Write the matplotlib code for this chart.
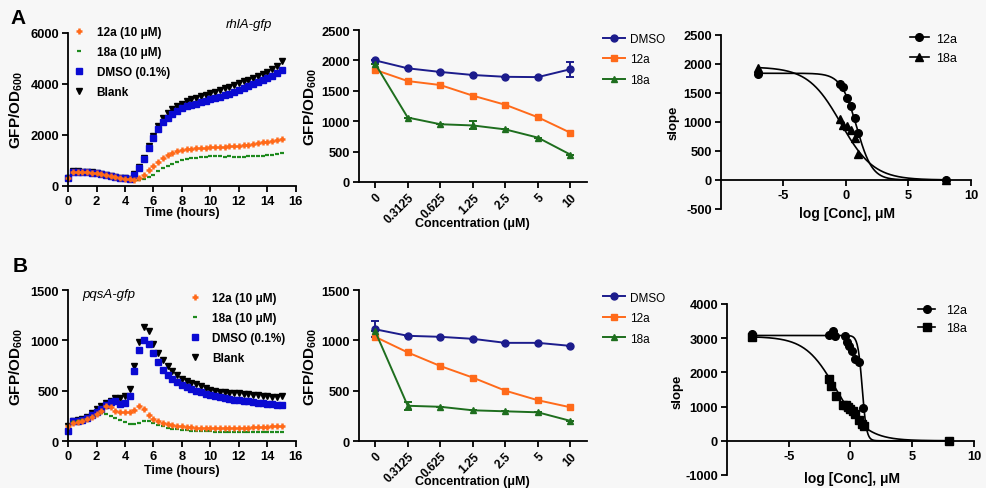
import numpy as np
import matplotlib
matplotlib.use("Agg")
import matplotlib.pyplot as plt
from matplotlib.lines import Line2D

plt.rcParams['font.family'] = ['Liberation Sans', 'DejaVu Sans']
plt.rcParams['mathtext.fontset'] = 'custom'
plt.rcParams['mathtext.rm'] = 'Liberation Sans'
plt.rcParams['mathtext.bf'] = 'Liberation Sans:bold'
plt.rcParams['axes.unicode_minus'] = False

# ---- time courses (one reading every 20 min) ----
timeHours = np.arange(46) / 3.0

rhlDmso = [300, 560, 560, 550, 540, 520, 500, 470, 430, 390, 350, 320, 300, 280, 450, 700,
           1050, 1500, 1900, 2250, 2500, 2680, 2830, 2950, 3050, 3120, 3180, 3230, 3280, 3340,
           3400, 3450, 3500, 3560, 3620, 3690, 3770, 3840, 3910, 3990, 4060, 4140, 4230, 4320,
           4420, 4530]
rhlBlank = [320, 570, 570, 560, 550, 530, 510, 480, 440, 400, 360, 330, 310, 290, 480, 750,
            1100, 1550, 1950, 2350, 2650, 2850, 3000, 3120, 3230, 3330, 3400, 3460, 3510, 3570,
            3640, 3700, 3760, 3830, 3900, 3960, 4030, 4100, 4170, 4250, 4320, 4400, 4480, 4580,
            4700, 4900]
rhl12a = [300, 550, 550, 540, 530, 510, 490, 460, 420, 380, 340, 310, 290, 270, 250, 320,
          450, 620, 800, 950, 1080, 1200, 1290, 1360, 1410, 1440, 1460, 1480, 1490, 1500,
          1510, 1520, 1530, 1540, 1550, 1560, 1580, 1600, 1620, 1650, 1680, 1710, 1740, 1780,
          1820, 1860]
rhl18a = [300, 520, 520, 510, 500, 490, 470, 440, 400, 360, 330, 300, 280, 260, 240, 240,
          270, 350, 450, 580, 700, 800, 880, 950, 1010, 1050, 1080, 1100, 1120, 1140,
          1160, 1170, 1160, 1150, 1170, 1150, 1140, 1150, 1160, 1170, 1180, 1190, 1200, 1220,
          1250, 1280]

pqsDmso = [100, 200, 200, 210, 230, 260, 290, 320, 360, 390, 400, 370, 380, 450, 700, 900,
           1000, 960, 870, 780, 710, 660, 620, 590, 560, 540, 520, 500, 490, 470,
           455, 445, 435, 425, 420, 410, 405, 400, 395, 385, 380, 375, 370, 365, 360, 360]
pqsBlank = [150, 200, 210, 220, 240, 280, 320, 350, 380, 400, 430, 430, 450, 520, 750, 980,
            1130, 1090, 960, 870, 800, 750, 700, 660, 620, 600, 580, 565, 550, 530,
            510, 500, 490, 485, 480, 480, 475, 470, 465, 460, 455, 450, 445, 440, 440, 445]
pqs12a = [150, 180, 190, 200, 220, 240, 270, 300, 350, 340, 300, 290, 290, 290, 310, 345,
          320, 260, 220, 195, 175, 165, 155, 150, 145, 140, 135, 132, 130, 128,
          126, 125, 125, 125, 127, 128, 130, 132, 134, 136, 138, 140, 142, 145, 148, 150]
pqs18a = [150, 190, 200, 210, 220, 240, 260, 275, 270, 250, 230, 210, 190, 170, 165, 180,
          200, 195, 180, 160, 145, 130, 122, 115, 110, 105, 102, 100, 98, 96,
          95, 93, 92, 90, 88, 87, 86, 85, 85, 85, 85, 86, 87, 88, 89, 90]

# ---- dose response (uM) ----
concLabels = ['0', '0.3125', '0.625', '1.25', '2.5', '5', '10']
concValues = [0, 0.3125, 0.625, 1.25, 2.5, 5, 10]

rhlDoseDmso = [2000, 1870, 1810, 1760, 1730, 1725, 1855]
rhlDoseDmsoErr = [0, 0, 0, 0, 0, 0, 120]
rhlDose12a = [1845, 1660, 1595, 1420, 1270, 1065, 810]
rhlDose18a = [1945, 1060, 950, 930, 865, 730, 450]
rhlDose18aErr = [0, 0, 0, 65, 0, 0, 0]

pqsDoseDmso = [1110, 1045, 1035, 1015, 975, 975, 945]
pqsDoseDmsoErr = [80, 0, 0, 0, 0, 0, 0]
pqsDose12a = [1035, 880, 745, 630, 500, 405, 335]
pqsDose18a = [1090, 350, 340, 305, 295, 285, 200]
pqsDose18aErr = [0, 40, 0, 0, 0, 0, 0]

# ---- slope vs log conc ----
rhlLogConc = [-7, -0.505, -0.204, 0.097, 0.398, 0.699, 1.0, 8]
rhlSlope12a = [1835, 1660, 1600, 1420, 1270, 1065, 810, 0]
rhlSlope18a = [1935, 1058, 948, 927, 866, 729, 450, 0]

pqsLogConc12a = [-8, -1.71, -1.45, -1.24, -0.45, -0.26, -0.08, 0.13, 0.39, 0.66, 1.05, 8]
pqsSlope12a = [3130, 3095, 3200, 3075, 3075, 2880, 2783, 2637, 2394, 2297, 954, 0]
pqsLogConc18a = [-8, -1.76, -1.55, -1.15, -0.6, -0.4, -0.2, 0.0, 0.2, 0.4, 0.66, 0.92, 1.13, 8]
pqsSlope18a = [3030, 1810, 1610, 1300, 1060, 1060, 1000, 930, 870, 780, 620, 500, 430, 0]

# fitted curves: top, bottom, logIC50, hill slope
rhlFit12a = [1840, 0, 0.85, 0.7]
rhlFit18a = [1950, 0, -0.4, 0.33]
pqsFit12a = [3080, 0, 0.95, 2.5]
pqsFit18a = [3050, 0, -1.2, 0.35]

orange = '#ff6a1a'
green = '#1e8a1e'
blue = '#0a0ad2'
navy = '#1c1c8c'
darkGreen = '#1e6e1e'


def logistic(x, p):
    top, bottom, logIc50, hill = p
    return bottom + (top - bottom) / (1 + 10 ** ((x - logIc50) * hill))


def styleAxes(ax):
    for side in ['top', 'right']:
        ax.spines[side].set_visible(False)
    for side in ['left', 'bottom']:
        ax.spines[side].set_linewidth(1.3)
    ax.tick_params(direction='out', length=4, width=1.3, labelsize=9.3, pad=2.5)
    for lab in ax.get_xticklabels() + ax.get_yticklabels():
        lab.set_fontweight('bold')
    ax.patch.set_alpha(0)


def timePanel(ax, dmso, blank, c12, c18, ymax, ystep):
    ax.plot(timeHours, blank, 'v', color='black', ms=4.5, clip_on=False, label='Blank')
    ax.plot(timeHours, dmso, 's', color=blue, ms=4.5, clip_on=False, label='DMSO (0.1%)')
    ax.plot(timeHours, c18, '_', color=green, ms=3.5, mew=1.6, clip_on=False, label='18a (10 \u03bcM)')
    ax.plot(timeHours, c12, '+', color=orange, ms=5, mew=1.8, clip_on=False, label='12a (10 \u03bcM)')
    ax.set_xlim(0, 16)
    ax.set_ylim(0, ymax)
    ax.set_xticks(range(0, 17, 2))
    ax.set_yticks(range(0, ymax + 1, ystep))
    styleAxes(ax)
    ax.set_xlabel('Time (hours)', fontsize=9, fontweight='bold')
    ax.set_ylabel(r'$\mathbf{GFP/OD_{600}}$', fontsize=11)


def dosePanel(ax, dmso, dmsoErr, c12, c18, c18Err, ymax):
    pos = np.arange(len(concLabels))
    ax.errorbar(pos, dmso, yerr=dmsoErr, color=navy, marker='o', ms=5, lw=1.4, capsize=3,
                elinewidth=1.4, capthick=1.4, clip_on=False)
    ax.plot(pos, c12, color=orange, marker='s', ms=5, lw=1.4, clip_on=False)
    ax.errorbar(pos, c18, yerr=c18Err, color=darkGreen, marker='^', ms=5, lw=1.4, capsize=3,
                elinewidth=1.4, capthick=1.4, clip_on=False)
    ax.set_xlim(-0.5, 6.5)
    ax.set_ylim(0, ymax)
    ax.set_xticks(pos)
    ax.set_yticks(range(0, ymax + 1, 500))
    styleAxes(ax)
    ax.set_xticklabels(concLabels, rotation=45, ha='right', rotation_mode='anchor',
                       fontsize=8.6, fontweight='bold')
    ax.set_xlabel('Concentration (\u03bcM)', fontsize=9, fontweight='bold')
    ax.set_ylabel(r'$\mathbf{GFP/OD_{600}}$', fontsize=11)
    return [Line2D([], [], color=navy, marker='o', ms=5, lw=1.4),
            Line2D([], [], color=orange, marker='s', ms=5, lw=1.4),
            Line2D([], [], color=darkGreen, marker='^', ms=5, lw=1.4)]


def slopePanel(ax, x12, y12, x18, y18, fit12, fit18, marker18, xlo, ymin, ymax, ystep):
    xs = np.linspace(xlo, 8, 400)
    ax.plot(xs, logistic(xs, fit12), color='black', lw=1.2)
    ax.plot(xs, logistic(xs, fit18), color='black', lw=1.2)
    ax.plot(x12, y12, 'o', color='black', ms=5.5, clip_on=False)
    ax.plot(x18, y18, marker18, color='black', ms=5.5, clip_on=False)
    ax.set_xlim(-10, 10)
    ax.set_ylim(ymin, ymax)
    ax.spines['bottom'].set_position(('data', 0))
    ax.set_xticks([-5, 0, 5, 10])
    ax.set_yticks(range(ymin, ymax + 1, ystep))
    styleAxes(ax)
    ax.set_xlabel('log [Conc], \u03bcM', fontsize=10, fontweight='bold')
    ax.set_ylabel('slope', fontsize=9.5, fontweight='bold')
    return [Line2D([], [], color='black', marker='o', ms=5.5, lw=1.2),
            Line2D([], [], color='black', marker=marker18, ms=5.5, lw=1.2)]


fig = plt.figure(figsize=(9.86, 4.89), dpi=100, facecolor='#f7f7f7')

axA1 = fig.add_axes([0.069, 0.6176, 0.231, 0.3129])
axA2 = fig.add_axes([0.364, 0.6258, 0.231, 0.3108])
axA3 = fig.add_axes([0.7312, 0.5706, 0.2535, 0.3558])
axB1 = fig.add_axes([0.069, 0.0961, 0.231, 0.3088])
axB2 = fig.add_axes([0.364, 0.0961, 0.231, 0.3088])
axB3 = fig.add_axes([0.7373, 0.0266, 0.2505, 0.3497])

timePanel(axA1, rhlDmso, rhlBlank, rhl12a, rhl18a, 6000, 2000)
timePanel(axB1, pqsDmso, pqsBlank, pqs12a, pqs18a, 1500, 500)
hA2 = dosePanel(axA2, rhlDoseDmso, rhlDoseDmsoErr, rhlDose12a, rhlDose18a, rhlDose18aErr, 2500)
hB2 = dosePanel(axB2, pqsDoseDmso, pqsDoseDmsoErr, pqsDose12a, pqsDose18a, pqsDose18aErr, 1500)
hA3 = slopePanel(axA3, rhlLogConc, rhlSlope12a, rhlLogConc, rhlSlope18a, rhlFit12a, rhlFit18a,
                 '^', -7, -500, 2500, 500)
hB3 = slopePanel(axB3, pqsLogConc12a, pqsSlope12a, pqsLogConc18a, pqsSlope18a, pqsFit12a, pqsFit18a,
                 's', -8, -1000, 4000, 1000)

# label placement
axA1.xaxis.set_label_coords(0.5, -0.13)
axB1.xaxis.set_label_coords(0.5, -0.152)
axA2.xaxis.set_label_coords(0.496, -0.232)
axB2.xaxis.set_label_coords(0.496, -0.225)
axA3.xaxis.set_label_coords(0.505, 0.015)
axB3.xaxis.set_label_coords(0.506, 0.025)
axA1.yaxis.set_label_coords(-0.19, 0.5)
axB1.yaxis.set_label_coords(-0.19, 0.5)
axA2.yaxis.set_label_coords(-0.175, 0.5)
axB2.yaxis.set_label_coords(-0.175, 0.5)
axA3.yaxis.set_label_coords(-0.164, 0.5)
axB3.yaxis.set_label_coords(-0.176, 0.49)

# legends
for ax, top, left, pad in [(axA1, 0.945, 0.074, 1.0), (axB1, 0.401, 0.192, 0.95)]:
    h, l = ax.get_legend_handles_labels()
    order = [3, 2, 1, 0]
    fig.legend([h[i] for i in order], [l[i] for i in order], loc='upper left',
               bbox_to_anchor=(left, top), bbox_transform=fig.transFigure, frameon=False,
               borderpad=0, borderaxespad=0, handlelength=1.0, handletextpad=pad,
               labelspacing=0.68, prop={'weight': 'bold', 'size': 8.5})

for hs, top in [(hA2, 0.931), (hB2, 0.4018)]:
    fig.legend(hs, ['DMSO', '12a', '18a'], loc='upper left', bbox_to_anchor=(0.6116, top),
               bbox_transform=fig.transFigure, frameon=False, borderpad=0, borderaxespad=0,
               handlelength=1.85, handletextpad=0.4, labelspacing=0.72, fontsize=8.5)

fig.legend(hA3, ['12a', '18a'], loc='upper left', bbox_to_anchor=(0.9229, 0.931),
           bbox_transform=fig.transFigure, frameon=False, borderpad=0, borderaxespad=0,
           handlelength=1.5, handletextpad=0.56, labelspacing=0.6, fontsize=9)
fig.legend(hB3, ['12a', '18a'], loc='upper left', bbox_to_anchor=(0.931, 0.376),
           bbox_transform=fig.transFigure, frameon=False, borderpad=0, borderaxespad=0,
           handlelength=1.4, handletextpad=0.88, labelspacing=0.5, fontsize=9)

fig.text(0.2525, 0.949, 'rhlA-gfp', style='italic', fontsize=9.5, ha='center', va='center')
fig.text(0.1105, 0.3967, 'pqsA-gfp', style='italic', fontsize=9.5, ha='center', va='center')
fig.text(0.018, 0.963, 'A', fontsize=15, fontweight='bold', ha='center', va='center')
fig.text(0.0203, 0.454, 'B', fontsize=15, fontweight='bold', ha='center', va='center')

fig.savefig('out.png', dpi=100, facecolor=fig.get_facecolor())
